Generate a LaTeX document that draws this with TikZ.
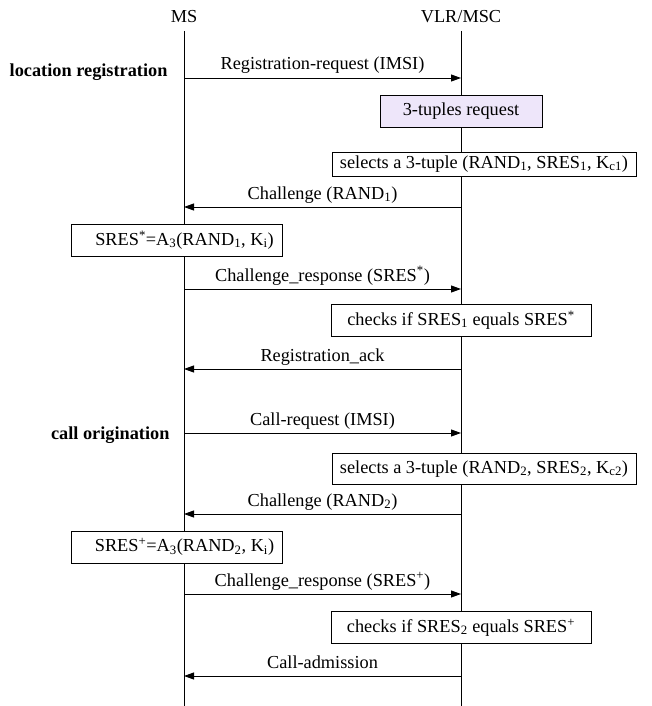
\documentclass[tikz,border=0pt]{standalone}
\usepackage{fontspec}
\setmainfont{Liberation Serif}
\usetikzlibrary{arrows.meta}
\definecolor{lav}{RGB}{238,230,250}
\tikzset{
  lifeline/.style={line width=0.9pt},
  msg/.style={line width=0.9pt,-{Triangle[length=10pt,width=7pt]}},
  mlbl/.style={midway,anchor=base,yshift=8pt,inner sep=0pt},
  actbox/.style={draw,line width=0.9pt,fill=white,minimum height=32pt,inner xsep=0pt,inner ysep=2pt,anchor=center},
  sect/.style={font=\fontsize{18.3}{21}\selectfont\bfseries,anchor=east}
}
\begin{document}
\begin{tikzpicture}[x=1pt,y=-1pt,every node/.style={font=\fontsize{18.3}{21}\selectfont}]
\useasboundingbox (0,0) rectangle (651,706);
% heads
\node (ms) at (184,17) {MS};
\node (vlr) at (461,17) {VLR/MSC};
\coordinate (mstop) at (184,31);
\coordinate (vlrtop) at (461,31);
\coordinate (msend) at (184,706);
\coordinate (vlrend) at (461,706);
\draw[lifeline] (mstop) -- (msend);
\draw[lifeline] (vlrtop) -- (vlrend);
% section labels
\node[sect] (loc) at (171,72) {location registration};
\node[sect] (call) at (173,435) {call origination};
% message coordinates
\foreach \n/\y in {a/78,b/207,c/289,d/369,e/433,f/514,g/594,h/676}{
  \coordinate (m\n) at (184,\y);
  \coordinate (v\n) at (461,\y);
}
\draw[msg] (ma) -- node[mlbl] {Registration-request (IMSI)} (va);
\draw[msg] (vb) -- node[mlbl] {Challenge (RAND\textsubscript{1})} (mb);
\draw[msg] (mc) -- node[mlbl] {Challenge\_response (SRES\textsuperscript{*})} (vc);
\draw[msg] (vd) -- node[mlbl] {Registration\_ack} (md);
\draw[msg] (me) -- node[mlbl] {Call-request (IMSI)} (ve);
\draw[msg] (vf) -- node[mlbl] {Challenge (RAND\textsubscript{2})} (mf);
\draw[msg] (mg) -- node[mlbl] {Challenge\_response (SRES\textsuperscript{+})} (vg);
\draw[msg] (vh) -- node[mlbl] {Call-admission} (mh);
% boxes
\node[actbox,fill=lav,minimum width=162pt] (tup) at (461,111) {3-tuples request};
\node[actbox,minimum width=304pt,minimum height=24pt,inner ysep=1pt] (sel1) at (484,164) {selects a 3-tuple (RAND\textsubscript{1}, SRES\textsubscript{1}, K\textsubscript{c1})};
\node[actbox,minimum width=211pt] (sr1) at (176.5,240) {\hspace*{16pt}SRES\textsuperscript{*}=A\textsubscript{3}(RAND\textsubscript{1}, K\textsubscript{i})};
\node[actbox,minimum width=260pt] (chk1) at (461,320) {checks if SRES\textsubscript{1} equals SRES\textsuperscript{*}};
\node[actbox,minimum width=304pt,minimum height=31pt] (sel2) at (484,469) {selects a 3-tuple (RAND\textsubscript{2}, SRES\textsubscript{2}, K\textsubscript{c2})};
\node[actbox,minimum width=211pt] (sr2) at (176.5,547) {\hspace*{16pt}SRES\textsuperscript{+}=A\textsubscript{3}(RAND\textsubscript{2}, K\textsubscript{i})};
\node[actbox,minimum width=260pt] (chk2) at (461,627.5) {checks if SRES\textsubscript{2} equals SRES\textsuperscript{+}};
\end{tikzpicture}
\end{document}
